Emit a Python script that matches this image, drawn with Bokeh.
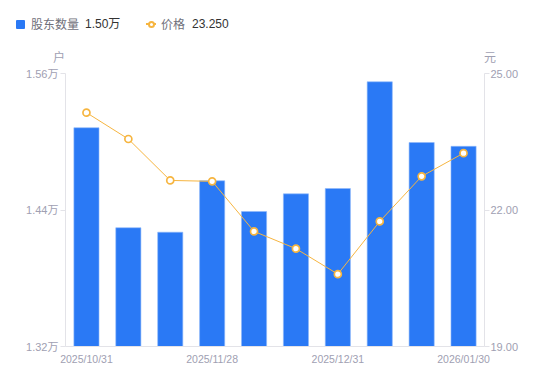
from bokeh.plotting import figure
from bokeh.layouts import column
from bokeh.models import (Range1d, LinearAxis, FixedTicker, PrintfTickFormatter,
                          ColumnDataSource, Div)
from bokeh.embed import file_html
from bokeh.resources import INLINE

# ---- data ----
dates = ["2025/10/31", "2025/11/10", "2025/11/20", "2025/11/28", "2025/12/10",
         "2025/12/19", "2025/12/31", "2026/01/09", "2026/01/20", "2026/01/30"]
holders = [1.5123, 1.4244, 1.4205, 1.4657, 1.4387, 1.4542, 1.4589, 1.5527, 1.4993, 1.4960]  # 万户
price = [24.14, 23.56, 22.65, 22.63, 21.53, 21.15, 20.59, 21.75, 22.74, 23.25]  # 元
shown_ticks = [0, 3, 6, 9]
left_ticks = [1.32, 1.44, 1.56]
right_ticks = [19.0, 22.0, 25.0]
series_names = ["股东数量", "价格"]
unit_names = ["户", "元"]

CJK = "Noto Sans CJK SC"
NUM = "Liberation Sans, Noto Sans CJK SC"
BLUE = "#2a79f5"
ORANGE = "#f6b540"
TICK_COLOR = "#a0a0b2"
AXIS_COLOR = "#e3e3e8"
W = 534
HEAD = 64

# ---- header: legend + unit names ----
def span(style, text=""):
    return f'<span style="position:absolute;box-sizing:border-box;{style}">{text}</span>'

head_html = (
    f'<div style="position:relative;width:{W}px;height:{HEAD}px;'
    f'font-size:12px;line-height:16px;white-space:nowrap;">'
    + span(f"left:16px;top:19.5px;width:9px;height:9px;background:{BLUE};border-radius:1px;")
    + span(f"left:31px;top:16px;color:#70707a;font-family:'{CJK}';", series_names[0])
    + span(f"left:85px;top:16px;color:#333333;font-family:'Liberation Sans','{CJK}';",
           f"{holders[-1]:.2f}万")
    + span(f"left:146px;top:23.4px;width:10px;height:1.3px;background:{ORANGE};")
    + span(f"left:147.5px;top:20.5px;width:7px;height:7px;border:2px solid {ORANGE};"
           "border-radius:50%;background:white;")
    + span(f"left:161px;top:16px;color:#70707a;font-family:'{CJK}';", series_names[1])
    + span(f"left:192px;top:16px;color:#333333;font-family:'Liberation Sans','{CJK}';",
           f"{price[-1]:.3f}")
    + span(f"left:53px;top:49px;color:{TICK_COLOR};font-family:'{CJK}';", unit_names[0])
    + span(f"left:484px;top:49px;color:{TICK_COLOR};font-family:'{CJK}';", unit_names[1])
    + "</div>"
)
head = Div(text=head_html, width=W, height=HEAD, margin=0)

# ---- main chart ----
idx = list(range(len(dates)))
src = ColumnDataSource(dict(x=idx, holders=holders, price=price, date=dates))

p = figure(width=W, height=306, x_range=Range1d(-0.5, len(dates) - 0.5),
           y_range=Range1d(left_ticks[0], left_ticks[-1]),
           output_backend="svg", toolbar_location=None,
           min_border_left=65, min_border_right=W - 484, min_border_top=9, min_border_bottom=24,
           margin=0)
p.extra_y_ranges = {"price": Range1d(right_ticks[0], right_ticks[-1])}
p.grid.visible = False
p.outline_line_color = None

p.vbar(x="x", top="holders", bottom=left_ticks[0], width=0.6, source=src,
       fill_color=BLUE, line_color="#8fb8fa", line_width=0.6)
p.line(x="x", y="price", source=src, y_range_name="price", line_color=ORANGE, line_width=1)
p.scatter(x="x", y="price", source=src, y_range_name="price", size=7, marker="circle",
          fill_color="white", line_color=ORANGE, line_width=1.7)

# bottom axis
xa = p.xaxis[0]
xa.ticker = FixedTicker(ticks=shown_ticks)
xa.major_label_overrides = {i: dates[i] for i in shown_ticks}
xa.major_tick_out = 0
xa.major_tick_in = 0
xa.minor_tick_out = 0
xa.minor_tick_in = 0
xa.axis_line_color = AXIS_COLOR
xa.major_label_standoff = 6
xa.major_label_text_font = NUM
xa.major_label_text_font_size = "10.5px"
xa.major_label_text_color = TICK_COLOR

# left axis
ya = p.yaxis[0]
ya.ticker = FixedTicker(ticks=left_ticks)
ya.formatter = PrintfTickFormatter(format="%.2f万")
ya.major_tick_out = 5
ya.major_tick_in = 0
ya.minor_tick_out = 0
ya.minor_tick_in = 0
ya.major_tick_line_color = AXIS_COLOR
ya.axis_line_color = AXIS_COLOR
ya.major_label_standoff = 2
ya.major_label_text_font = NUM
ya.major_label_text_font_size = "11px"
ya.major_label_text_color = TICK_COLOR

# right axis
ra = LinearAxis(y_range_name="price", ticker=FixedTicker(ticks=right_ticks),
                formatter=PrintfTickFormatter(format="%.2f"))
ra.major_tick_out = 5
ra.major_tick_in = 0
ra.minor_tick_out = 0
ra.minor_tick_in = 0
ra.major_tick_line_color = AXIS_COLOR
ra.axis_line_color = AXIS_COLOR
ra.major_label_standoff = 1
ra.major_label_text_font = NUM
ra.major_label_text_font_size = "11px"
ra.major_label_text_color = TICK_COLOR
p.add_layout(ra, "right")

layout = column(head, p, spacing=0)
open("out.html", "w").write(file_html(layout, INLINE))
